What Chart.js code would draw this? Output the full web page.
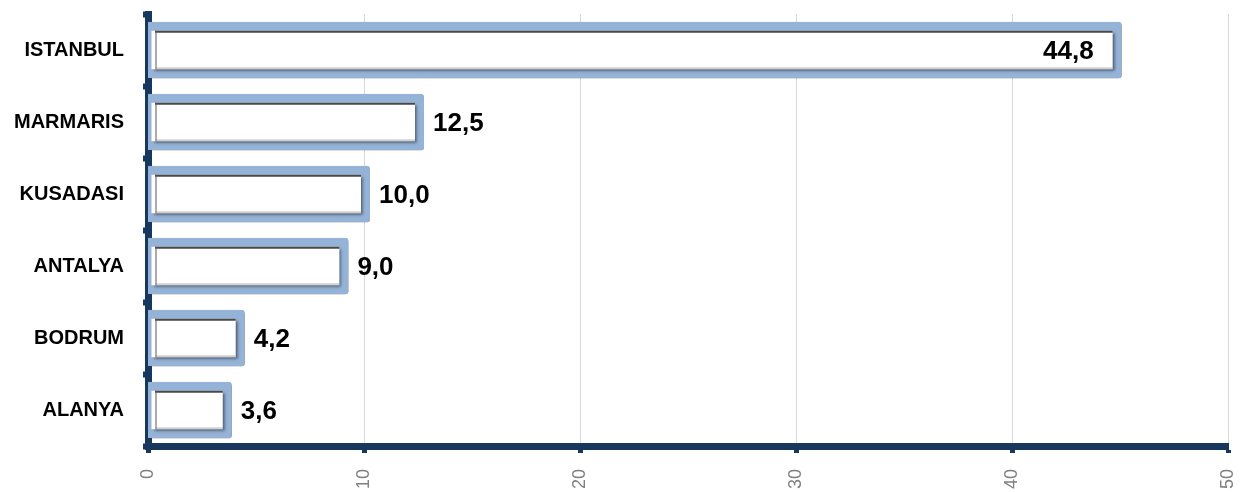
<!DOCTYPE html>
<html>
<head>
<meta charset="utf-8">
<script src="https://cdn.jsdelivr.net/npm/chart.js@4.4.1/dist/chart.umd.min.js"></script>
<style>
  html, body { margin: 0; padding: 0; background: #fff; }
  canvas { display: block; }
</style>
</head>
<body>
<canvas id="cityChart" width="1244" height="492"></canvas>
<script>
// === Data ===
const cities = ['ISTANBUL', 'MARMARIS', 'KUSADASI', 'ANTALYA', 'BODRUM', 'ALANYA'];
const shares = [44.8, 12.5, 10.0, 9.0, 4.2, 3.6];
const xTicks = [0, 10, 20, 30, 40, 50];

const NAVY = '#17375E';
const BAR_BLUE = '#95B3D7';
const BORDER_W = 9;
const INFLATE = 6;

// drop shadow under the bars
const shadowPlugin = {
    id: 'barShadow',
    beforeDatasetsDraw(chart) {
        const ctx = chart.ctx;
        ctx.save();
        ctx.shadowColor = 'rgba(0,0,0,0.55)';
        ctx.shadowBlur = 3;
        ctx.shadowOffsetX = 2;
        ctx.shadowOffsetY = 2;
    },
    afterDatasetsDraw(chart) {
        chart.ctx.restore();
    }
};

// inset line inside each bar + value labels
const labelPlugin = {
    id: 'valueLabels',
    afterDatasetsDraw(chart) {
        const ctx = chart.ctx;
        const meta = chart.getDatasetMeta(0);
        const area = chart.chartArea;
        ctx.save();
        meta.data.forEach((bar, i) => {
            const p = bar.getProps(['x', 'y', 'base', 'height'], true);
            const left = Math.max(p.base - INFLATE, area.left) + BORDER_W - 2;
            const right = p.x + INFLATE - BORDER_W;
            const top = p.y - p.height / 2 - INFLATE + BORDER_W;
            const bottom = p.y + p.height / 2 + INFLATE - BORDER_W;
            ctx.lineWidth = 2;
            ctx.strokeStyle = 'rgba(40,40,40,0.85)';
            ctx.beginPath();
            ctx.moveTo(left, top + 1);
            ctx.lineTo(right, top + 1);
            ctx.stroke();
            ctx.strokeStyle = 'rgba(90,90,90,0.5)';
            ctx.beginPath();
            ctx.moveTo(left + 1, top);
            ctx.lineTo(left + 1, bottom);
            ctx.stroke();
            ctx.strokeStyle = 'rgba(150,150,150,0.45)';
            ctx.beginPath();
            ctx.moveTo(left, bottom - 1);
            ctx.lineTo(right, bottom - 1);
            ctx.stroke();

            const txt = shares[i].toFixed(1).replace('.', ',');
            ctx.font = 'bold 26px Arial, "Liberation Sans", sans-serif';
            ctx.fillStyle = '#000';
            ctx.textBaseline = 'middle';
            if (shares[i] > 40) {
                ctx.textAlign = 'right';
                ctx.fillText(txt, p.x - 22, p.y + 2);
            } else {
                ctx.textAlign = 'left';
                ctx.fillText(txt, p.x + 15, p.y + 2);
            }
        });
        ctx.restore();
    }
};

const cityChart = new Chart(document.getElementById('cityChart').getContext('2d'), {
    type: 'bar',
    data: {
        labels: cities,
        datasets: [{
            data: shares,
            backgroundColor: '#ffffff',
            borderColor: BAR_BLUE,
            borderWidth: BORDER_W,
            borderSkipped: false,
            borderRadius: 3,
            inflateAmount: INFLATE,
            barPercentage: 0.62,
            categoryPercentage: 1.0
        }]
    },
    options: {
        indexAxis: 'y',
        responsive: false,
        animation: false,
        layout: { padding: { top: 14, right: 16, bottom: 0, left: 0 } },
        plugins: {
            legend: { display: false },
            tooltip: { enabled: false }
        },
        scales: {
            x: {
                min: 0,
                max: 50,
                afterBuildTicks: axis => { axis.ticks = xTicks.map(v => ({ value: v })); },
                afterFit: scale => {
                    scale.paddingLeft = 0;
                    scale.paddingRight = 0;
                    scale.height = 46;
                },
                ticks: {
                    minRotation: 90,
                    maxRotation: 90,
                    padding: 16,
                    color: '#808080',
                    font: { family: 'Arial, "Liberation Sans", sans-serif', size: 18 }
                },
                grid: {
                    color: '#d9d9d9',
                    lineWidth: 1,
                    tickColor: NAVY,
                    tickWidth: 5,
                    tickLength: 7
                },
                border: { color: NAVY, width: 7 }
            },
            y: {
                z: 1,
                afterFit: scale => {
                    scale.paddingTop = 0;
                    scale.paddingBottom = 0;
                    scale.width = 148;
                },
                ticks: {
                    color: '#000',
                    padding: 19,
                    font: { family: 'Arial, "Liberation Sans", sans-serif', size: 20, weight: 'bold' }
                },
                grid: {
                    drawOnChartArea: false,
                    tickColor: NAVY,
                    tickWidth: 6,
                    tickLength: 5
                },
                border: { color: NAVY, width: 7 }
            }
        }
    },
    plugins: [shadowPlugin, labelPlugin]
});
</script>
</body>
</html>
